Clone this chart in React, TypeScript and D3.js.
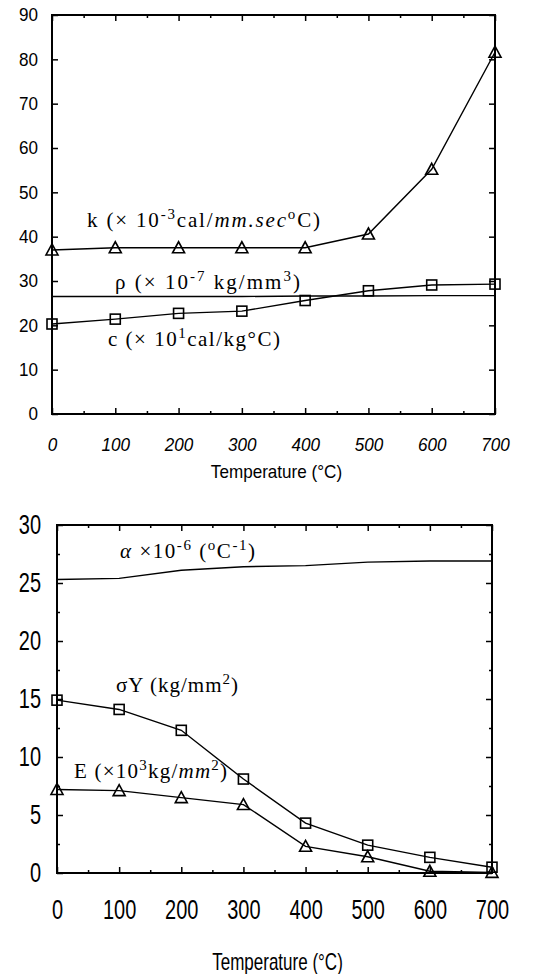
import React, { useEffect, useRef } from 'react';
import * as d3 from 'd3';

// temperatures (°C) shared by every series
const temps = [0, 100, 200, 300, 400, 500, 600, 700];

// upper chart
const kValues = [37, 37.5, 37.5, 37.5, 37.5, 40.6, 55.2, 81.6];
const rhoValues = [26.5, 26.5, 26.5, 26.5, 26.6, 26.6, 26.7, 26.7];
const cValues = [20.3, 21.4, 22.7, 23.2, 25.6, 27.8, 29.1, 29.3];

// lower chart
const alphaValues = [25.3, 25.4, 26.1, 26.4, 26.5, 26.8, 26.9, 26.9];
const sigmaYValues = [14.9, 14.1, 12.3, 8.1, 4.3, 2.4, 1.35, 0.5];
const eValues = [7.2, 7.1, 6.5, 5.9, 2.3, 1.4, 0.15, 0.05];

const topYTicks = [0, 10, 20, 30, 40, 50, 60, 70, 80, 90];
const bottomYTicks = [0, 5, 10, 15, 20, 25, 30];
const bottomYMinor = [2.5, 7.5, 12.5, 17.5, 22.5, 27.5];
const xTicks = [0, 100, 200, 300, 400, 500, 600, 700];
const xMinor = [50, 150, 250, 350, 450, 550, 650];

const serif = '"Liberation Serif", "Times New Roman", serif';
const sans = '"Liberation Sans", Arial, sans-serif';

const App = () => {
  const svgRef = useRef(null);

  useEffect(() => {
    const svg = d3.select(svgRef.current);
    svg.selectAll('*').remove();

    const drawPanel = (opts) => {
      const { x, y, yTicks, yMinor, tickSize, xItalic, squeeze, xPad, yPad, labelSize, labelY } = opts;
      const [x0, x1] = x.range();
      const [y0, y1] = y.range();
      const g = svg.append('g');

      const style = (sel, italic = false) => {
        sel.select('.domain').remove();
        sel.selectAll('line').attr('stroke', '#000').attr('stroke-width', 1.5);
        sel.selectAll('text')
          .attr('font-family', sans)
          .attr('font-size', tickSize)
          .attr('font-style', italic ? 'italic' : 'normal')
          .attr('transform', `scale(${squeeze},1)`)
          .attr('fill', '#000');
      };

      // major ticks with labels
      g.append('g').attr('transform', `translate(0,${y0})`)
        .call(d3.axisBottom(x).tickValues(xTicks).tickSizeInner(-6).tickSizeOuter(0).tickPadding(xPad))
        .call(style, xItalic);
      g.append('g').attr('transform', `translate(${x0},0)`)
        .call(d3.axisLeft(y).tickValues(yTicks).tickSizeInner(-6).tickSizeOuter(0).tickPadding(yPad / squeeze))
        .call(style);
      // ticks on the opposite sides
      g.append('g').attr('transform', `translate(0,${y1})`)
        .call(d3.axisTop(x).tickValues(xTicks).tickSizeInner(-6).tickSizeOuter(0).tickFormat(() => ''))
        .call(style);
      g.append('g').attr('transform', `translate(${x1},0)`)
        .call(d3.axisRight(y).tickValues(yTicks).tickSizeInner(-6).tickSizeOuter(0).tickFormat(() => ''))
        .call(style);
      // minor ticks
      [[d3.axisBottom, y0], [d3.axisTop, y1]].forEach(([ax, pos]) => {
        g.append('g').attr('transform', `translate(0,${pos})`)
          .call(ax(x).tickValues(xMinor).tickSizeInner(-3).tickSizeOuter(0).tickFormat(() => ''))
          .call(style);
      });
      if (yMinor) {
        [[d3.axisLeft, x0], [d3.axisRight, x1]].forEach(([ax, pos]) => {
          g.append('g').attr('transform', `translate(${pos},0)`)
            .call(ax(y).tickValues(yMinor).tickSizeInner(-3).tickSizeOuter(0).tickFormat(() => ''))
            .call(style);
        });
      }

      // frame
      g.append('rect')
        .attr('x', x0).attr('y', y1)
        .attr('width', x1 - x0).attr('height', y0 - y1)
        .attr('fill', 'none').attr('stroke', '#000').attr('stroke-width', 2);

      g.append('text')
        .attr('transform', `translate(${(x0 + x1) / 2 + 3},${labelY}) scale(${squeeze},1)`)
        .attr('text-anchor', 'middle')
        .attr('font-family', sans)
        .attr('font-size', labelSize)
        .text('Temperature (\u00B0C)');

      return g;
    };

    const drawSeries = (g, x, y, values, marker) => {
      const line = d3.line().x((d, i) => x(temps[i])).y((d) => y(d));
      g.append('path')
        .datum(values)
        .attr('d', line)
        .attr('fill', 'none')
        .attr('stroke', '#000')
        .attr('stroke-width', 1.4);
      if (marker === 'triangle') {
        g.selectAll(null).data(values).enter().append('path')
          .attr('d', (d, i) => {
            const cx = x(temps[i]);
            const cy = y(d);
            return `M${cx},${cy - 6}L${cx + 6},${cy + 5}L${cx - 6},${cy + 5}Z`;
          })
          .attr('fill', 'none').attr('stroke', '#000').attr('stroke-width', 1.6);
      } else if (marker === 'square') {
        g.selectAll(null).data(values).enter().append('rect')
          .attr('x', (d, i) => x(temps[i]) - 5)
          .attr('y', (d) => y(d) - 5)
          .attr('width', 10).attr('height', 10)
          .attr('fill', 'none').attr('stroke', '#000').attr('stroke-width', 1.6);
      }
    };

    // series label: parts = [text, kind] where kind is 'sup' or 'it'
    const label = (g, xPos, yPos, width, parts) => {
      const t = g.append('text')
        .attr('x', xPos).attr('y', yPos)
        .attr('font-family', serif)
        .attr('font-size', 21)
        .attr('textLength', width)
        .attr('lengthAdjust', 'spacing');
      let raised = false;
      parts.forEach(([s, kind]) => {
        const sp = t.append('tspan').text(s);
        if (kind === 'sup' && !raised) { sp.attr('dy', -8).attr('font-size', 15); raised = true; }
        else if (kind === 'sup') sp.attr('font-size', 15);
        else if (raised) { sp.attr('dy', 8); raised = false; }
        if (kind === 'it') sp.attr('font-style', 'italic');
      });
    };

    // ---------- upper chart ----------
    const xTop = d3.scaleLinear().domain([0, 700]).range([52, 495]);
    const yTop = d3.scaleLinear().domain([0, 90]).range([414, 15]);
    const gTop = drawPanel({
      x: xTop, y: yTop, yTicks: topYTicks,
      tickSize: 18, xItalic: true, squeeze: 0.95, xPad: 24, yPad: 14,
      labelSize: 18, labelY: 478
    });

    drawSeries(gTop, xTop, yTop, kValues, 'triangle');
    drawSeries(gTop, xTop, yTop, rhoValues, null);
    drawSeries(gTop, xTop, yTop, cValues, 'square');

    label(gTop, 87, 227, 233, [['k (\u00D7 10'], ['-3', 'sup'], ['cal/'], ['mm.sec', 'it'], ['o', 'sup'], ['C)']]);
    label(gTop, 115, 289, 185, [['\u03C1 (\u00D7 10'], ['-7', 'sup'], [' kg/mm'], ['3', 'sup'], [')']]);
    label(gTop, 108, 346, 172, [['c (\u00D7 10'], ['1', 'sup'], ['cal/kg\u00B0C)']]);

    // ---------- lower chart ----------
    const xBot = d3.scaleLinear().domain([0, 700]).range([57, 492]);
    const yBot = d3.scaleLinear().domain([0, 30]).range([873, 525]);
    const gBot = drawPanel({
      x: xBot, y: yBot, yTicks: bottomYTicks, yMinor: bottomYMinor,
      tickSize: 27, xItalic: false, squeeze: 0.74, xPad: 27, yPad: 16,
      labelSize: 23, labelY: 970
    });

    drawSeries(gBot, xBot, yBot, alphaValues, null);
    drawSeries(gBot, xBot, yBot, sigmaYValues, 'square');
    drawSeries(gBot, xBot, yBot, eValues, 'triangle');

    label(gBot, 120, 558, 135, [['\u03B1', 'it'], [' \u00D710'], ['-6', 'sup'], [' ('], ['o', 'sup'], ['C'], ['-1', 'sup'], [')']]);
    label(gBot, 116, 692, 122, [['\u03C3Y (kg/mm'], ['2', 'sup'], [')']]);
    label(gBot, 74, 778, 153, [['E (\u00D710'], ['3', 'sup'], ['kg/'], ['mm', 'it'], ['2', 'sup'], [')']]);
  }, []);

  return (
    <svg
      ref={svgRef}
      width={543}
      height={974}
      style={{ position: 'absolute', left: 0, top: 0, background: '#fff' }}
    />
  );
};

export default App;
